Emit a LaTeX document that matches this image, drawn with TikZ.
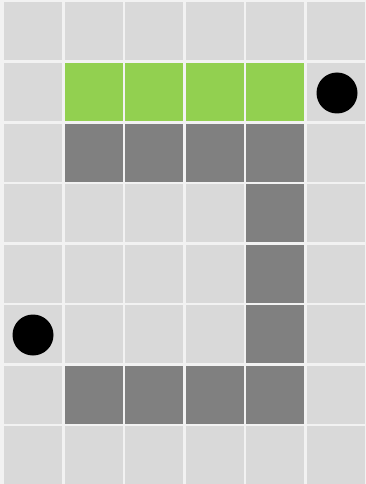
\documentclass[tikz,border=0pt]{standalone}
\definecolor{celda}{HTML}{D9D9D9}
\definecolor{muro}{HTML}{808080}
\definecolor{meta}{HTML}{92D050}
\definecolor{fondo}{HTML}{F2F2F2}
\begin{document}
\begin{tikzpicture}[x=1pt, y=-1pt,
    casilla/.style={rectangle, fill=celda, minimum width=58pt, minimum height=58pt, inner sep=0pt},
    pared/.style={casilla, fill=muro},
    verde/.style={casilla, fill=meta},
    ficha/.style={circle, fill=black, minimum size=41pt, inner sep=0pt}]
        % fondo
        \fill[fondo] (0,0) rectangle (366,484);
        \useasboundingbox (0,0) rectangle (366,484);
        % tablero
        \foreach \i in {0,...,5}
            \foreach \j in {0,...,7}
                \node[casilla] (c\i\j) at (33+60.5*\i, 31.5+60.5*\j) {};
        % fila verde
        \foreach \i in {1,...,4}
            \node[verde] at (c\i1) {};
        % paredes
        \foreach \i in {1,...,4}
            \node[pared] at (c\i2) {};
        \foreach \j in {3,4,5}
            \node[pared] at (c4\j) {};
        \foreach \i in {1,...,4}
            \node[pared] at (c\i6) {};
        % fichas
        \node[ficha] (p) at ([xshift=1.5pt, yshift=-1pt]c51) {};
        \node[ficha] (q) at ([yshift=-1pt]c05) {};
    \end{tikzpicture}
\end{document}
